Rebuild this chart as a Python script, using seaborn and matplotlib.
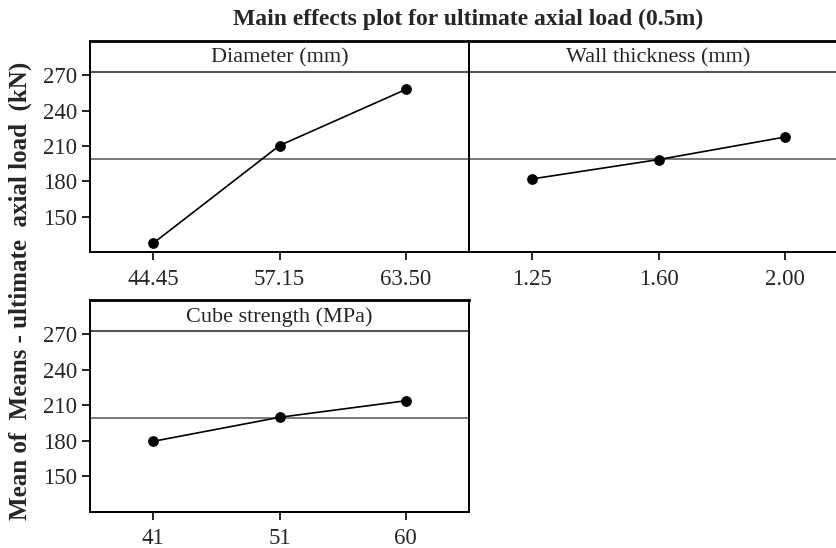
import matplotlib
matplotlib.use("Agg")
import matplotlib.pyplot as plt
import seaborn as sns
import pandas as pd

# Factor levels and mean ultimate axial load (kN) at each level
diameter_levels = ["44.45", "57.15", "63.50"]
diameter_means = [127.4, 210.3, 257.9]

wall_levels = ["1.25", "1.60", "2.00"]
wall_means = [182.0, 198.4, 217.5]

cube_levels = ["41", "51", "60"]
cube_means = [179.5, 199.8, 213.8]

grand_mean = 198.9

panel_titles = ["Diameter (mm)", "Wall thickness (mm)", "Cube strength (MPa)"]
y_ticks = [150, 180, 210, 240, 270]

sns.set_theme(style="white")
plt.rcParams["font.family"] = ["Liberation Serif", "DejaVu Serif"]

W, H = 836, 548
fig = plt.figure(figsize=(W / 100, H / 100), dpi=100)


def frac(x0, y0, x1, y1):
    return [x0 / W, 1 - y1 / H, (x1 - x0) / W, (y1 - y0) / H]


ax1 = fig.add_axes(frac(90, 41, 469, 252))
ax2 = fig.add_axes(frac(469, 41, 848, 252))
ax3 = fig.add_axes(frac(90, 300, 469, 511.7))

panels = [
    (ax1, diameter_levels, diameter_means, panel_titles[0], True),
    (ax2, wall_levels, wall_means, panel_titles[1], False),
    (ax3, cube_levels, cube_means, panel_titles[2], True),
]

y_lo, y_hi, strip_y = 120, 299, 272.7

for ax, levels, means, title, show_y in panels:
    df = pd.DataFrame({"level": levels, "mean": means})
    ax.axhline(grand_mean, color="#6e6e6e", lw=1.3, zorder=1)
    sns.pointplot(data=df, x="level", y="mean", order=levels, ax=ax,
                  color="black", markers="o", markersize=6.8, linewidth=1.2,
                  errorbar=None, zorder=3)
    ax.axhline(strip_y, color="#555555", lw=1.5, zorder=2)
    ax.text(1, (strip_y + y_hi) / 2 - 1.0, title, ha="center", va="center",
            fontsize=16)
    ax.set_xlim(-0.5, 2.5)
    ax.set_ylim(y_lo, y_hi)
    ax.set_xlabel("")
    ax.set_ylabel("")
    ax.tick_params(axis="x", direction="out", length=6, width=1.2,
                   labelsize=16.5, pad=6, color="black", bottom=True)
    if show_y:
        ax.set_yticks(y_ticks)
        ax.tick_params(axis="y", direction="out", length=6, width=1.2,
                       labelsize=16.5, pad=3, color="black", left=True)
    else:
        ax.set_yticks([])
    for sp in ax.spines.values():
        sp.set_color("black")
        sp.set_linewidth(1.4)
    ax.spines["top"].set_linewidth(2.0)

fig.text(468.5 / W, 1 - 19 / H, "Main effects plot for ultimate axial load (0.5m)",
         ha="center", va="center", fontsize=17, fontweight="bold")
fig.text(20 / W, 1 - 291 / H, "Mean of  Means - ultimate  axial load  (kN)",
         ha="center", va="center", rotation=90, fontsize=18, fontweight="bold")

fig.savefig("out.png", dpi=100)
